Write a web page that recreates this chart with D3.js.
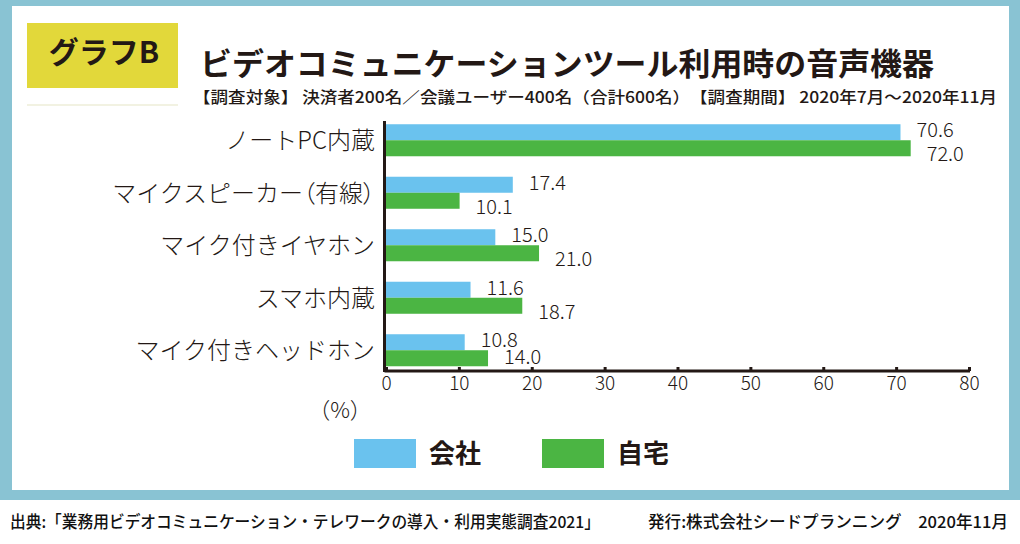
<!DOCTYPE html>
<html>
<head>
<meta charset="utf-8">
<script src="https://cdn.jsdelivr.net/npm/d3@7"></script>
<style>
  body { margin: 0; background: #fff; }
  svg { display: block; font-family: "Noto Sans CJK JP", "Noto Sans", sans-serif; }
</style>
</head>
<body>
<script>
const categories = ["ノートPC内蔵", "マイクスピーカー（有線）", "マイク付きイヤホン", "スマホ内蔵", "マイク付きヘッドホン"];
const seriesNames = ["会社", "自宅"];
const officeValues = [70.6, 17.4, 15.0, 11.6, 10.8];
const homeValues = [72.0, 10.1, 21.0, 18.7, 14.0];
const xTicks = [0, 10, 20, 30, 40, 50, 60, 70, 80];

const W = 1020, H = 544;
const ink = "#231815";
const colors = ["#6ac2ee", "#4bb543"];
const axisY = 371;

const data = categories.map((c, i) => ({cat: c, values: [officeValues[i], homeValues[i]]}));

const svg = d3.select("body").append("svg")
    .attr("width", W)
    .attr("height", H);

// frame
svg.append("rect").attr("x", 0).attr("y", 0).attr("width", W).attr("height", 500).attr("fill", "#89c3d3");
svg.append("rect").attr("x", 12).attr("y", 6).attr("width", 997).attr("height", 484).attr("fill", "#fff");

// header
svg.append("rect").attr("x", 27).attr("y", 23).attr("width", 151).attr("height", 65).attr("fill", "#e2d83a");
svg.append("text").attr("x", 104).attr("y", 63).attr("text-anchor", "middle")
    .attr("font-size", 30).attr("font-weight", 700).attr("fill", ink).text("グラフB");
svg.append("line").attr("x1", 27).attr("x2", 178).attr("y1", 105).attr("y2", 105)
    .attr("stroke", "#eeeed8").attr("stroke-width", 1.5);

svg.append("text").attr("x", 200).attr("y", 75)
    .attr("font-size", 31).attr("font-weight", 700).attr("fill", ink)
    .attr("textLength", 734).attr("lengthAdjust", "spacingAndGlyphs")
    .text("ビデオコミュニケーションツール利用時の音声機器");
svg.append("text").attr("x", 193).attr("y", 103)
    .attr("font-size", 15.5).attr("font-weight", 500).attr("fill", ink)
    .attr("textLength", 804).attr("lengthAdjust", "spacingAndGlyphs")
    .text("【調査対象】 決済者200名／会議ユーザー400名（合計600名）　【調査期間】 2020年7月～2020年11月");

// scales
const x = d3.scaleLinear().domain([0, 80]).range([386, 969]);
const y = d3.scaleBand().domain(categories).range([114, 376.5]).paddingInner(0.39).paddingOuter(0.195);
const ySub = d3.scaleBand().domain([0, 1]).range([0, y.bandwidth()]);

const g = svg.append("g");

const groups = g.selectAll(".grp").data(data).enter().append("g")
    .attr("class", "grp")
    .attr("transform", d => "translate(0," + y(d.cat) + ")");

groups.selectAll("rect").data(d => d.values).enter().append("rect")
    .attr("x", x(0))
    .attr("y", (v, i) => ySub(i))
    .attr("width", v => x(v) - x(0))
    .attr("height", ySub.bandwidth())
    .attr("fill", (v, i) => colors[i]);

groups.each(function(d) {
    const top = y(d.cat);
    d3.select(this).selectAll(".val").data(d.values).enter().append("text")
        .attr("class", "val")
        .attr("x", v => x(v) + 16)
        .attr("y", (v, i) => {
            const mid = ySub(i) + ySub.bandwidth() / 2;
            if (i === 0) return mid + 5;
            return Math.min(mid + 13, axisY - 7 - top);
        })
        .attr("font-size", 20).attr("font-weight", 300).attr("fill", ink)
        .text(v => v.toFixed(1));
});

// category labels (parentheses set proportional, like the original)
const cats = g.selectAll(".cat").data(categories).enter().append("text")
    .attr("class", "cat")
    .attr("x", 375)
    .attr("y", d => y(d) + y.bandwidth() / 2 + 9)
    .attr("text-anchor", "end")
    .attr("font-size", 24).attr("font-weight", 300).attr("fill", ink);
cats.selectAll("tspan").data(d => d.split(/(（|）)/).filter(s => s.length)).enter().append("tspan")
    .style("font-feature-settings", s => (s === "（" || s === "）") ? "'palt'" : "normal")
    .text(s => s);

// axes
const xAxis = d3.axisBottom(x).tickValues(xTicks).tickSize(-4).tickPadding(8).tickFormat(d3.format("d"));
const ax = svg.append("g").attr("transform", "translate(0," + axisY + ")").call(xAxis);
ax.select(".domain").attr("stroke", ink).attr("stroke-width", 3).attr("d", "M" + (x(0) - 1.5) + ",0H" + (x(80) + 1));
ax.selectAll(".tick line").attr("stroke", ink).attr("stroke-width", 3);
ax.selectAll(".tick text").attr("font-size", 19).attr("font-weight", 300).attr("fill", ink)
    .attr("font-family", "Noto Sans CJK JP").attr("dy", "0.9em").attr("y", 2);

svg.append("line").attr("x1", x(0) - 1.5).attr("x2", x(0) - 1.5).attr("y1", 121).attr("y2", axisY + 1)
    .attr("stroke", ink).attr("stroke-width", 3);

svg.append("text").attr("x", 340).attr("y", 418).attr("text-anchor", "middle")
    .attr("font-size", 22).attr("font-weight", 300).attr("fill", ink).text("（%）");

// legend
const legX = [354, 542];
const leg = svg.selectAll(".leg").data(seriesNames).enter().append("g")
    .attr("class", "leg")
    .attr("transform", (d, i) => "translate(" + legX[i] + ",439)");
leg.append("rect").attr("width", 62).attr("height", 29).attr("fill", (d, i) => colors[i]);
leg.append("text").attr("x", 75).attr("y", 24).attr("font-size", 26).attr("font-weight", 700)
    .attr("fill", ink).text(d => d);

// footer
svg.append("text").attr("x", 10).attr("y", 528).attr("font-size", 16.5).attr("font-weight", 500).attr("fill", "#111")
    .attr("textLength", 590).attr("lengthAdjust", "spacingAndGlyphs")
    .text("出典:「業務用ビデオコミュニケーション・テレワークの導入・利用実態調査2021」");
svg.append("text").attr("x", 648).attr("y", 528).attr("font-size", 16.5).attr("font-weight", 500).attr("fill", "#111")
    .attr("textLength", 360).attr("lengthAdjust", "spacingAndGlyphs")
    .text("発行:株式会社シードプランニング　2020年11月");
</script>
</body>
</html>
